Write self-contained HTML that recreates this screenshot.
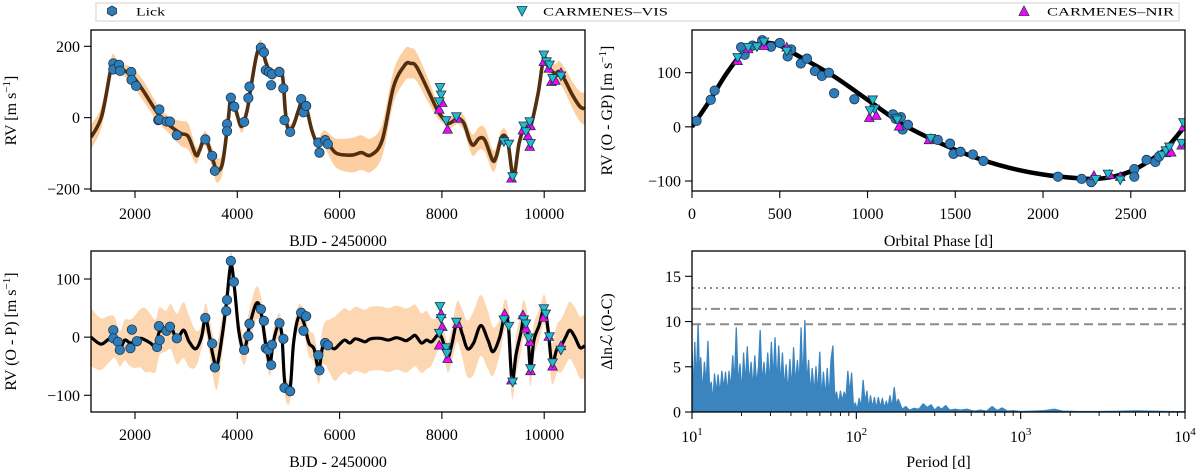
<!DOCTYPE html>
<html><head><meta charset="utf-8">
<style>
html,body{margin:0;padding:0;background:#fff;}
svg{display:block;font-family:"Liberation Serif",serif;}
</style></head>
<body>
<svg id="fig" width="1200" height="472" viewBox="0 0 1200 472" xmlns="http://www.w3.org/2000/svg">
  <g>
    <rect x="96" y="3" width="1083" height="18" fill="#fff" stroke="#d0d0d0" stroke-width="1"/>
    <g>
      <polygon points="112,6 116.5,8.5 116.5,13.5 112,16 107.5,13.5 107.5,8.5" fill="#2f7db8" stroke="#1a3550" stroke-width="0.8"/>
      <text x="136" y="15.5" font-size="12" textLength="29" lengthAdjust="spacingAndGlyphs">Lick</text>
    </g>
    <g>
      <polygon points="517,6.5 527,6.5 522,16" fill="#22bccb" stroke="#1a3550" stroke-width="0.8"/>
      <text x="543" y="15.5" font-size="12" textLength="125" lengthAdjust="spacingAndGlyphs">CARMENES–VIS</text>
    </g>
    <g>
      <polygon points="1024,6 1029,15.5 1019,15.5" fill="#ff00ff" stroke="#1a3550" stroke-width="0.8"/>
      <text x="1047" y="15.5" font-size="12" textLength="127" lengthAdjust="spacingAndGlyphs">CARMENES–NIR</text>
    </g>
  </g>
</svg>
<script>
// ---------- DATA: top-left (RV time series with GP+planet model) ----------
const lickT = [1576,1576,1688,1710,1926,1933,2022,2476,2454,2476,2617,2684,2818,3375,3509,3561,3799,3799,3874,3941,4134,4216,4238,4461,4520,4558,4617,4677,4662,4825,4900,4922,5033,5249,5294,5346,5584,5606,5718,5770];
const lickRV = [152,135,148,131,128,106,89,23,-7,-5,-11,-11,-49,-61,-107,-149,-18,-38,56,31,-12,55,87,196,183,133,128,122,91,128,82,-7,-40,52,15,33,-70,-98,-63,-74];
const visT = [7963,7985,7948,8082,8283,9212,9309,9383,9599,9643,9718,9732,9993,10045,10104,10164,10327];
const visRV = [85,64,45,-8,3,-67,-74,-165,-23,-39,-11,-72,176,157,148,110,117];
const nirT = [7948,8007,8111,8305,9227,9361,9584,9680,9732,9718,9993,10090,10142,10216,10327];
const nirRV = [23,42,-33,-2,-63,-170,-35,-51,-23,-81,157,138,101,104,126];
const modelT = [1140,1346,1517,1569,1703,1926,2149,2446,2669,2892,3041,3190,3264,3375,3524,3599,3710,3822,3874,3970,4082,4193,4268,4379,4468,4565,4677,4788,4885,4937,4989,5086,5197,5271,5346,5457,5569,5680,5777,5940,6238,6424,6610,6833,7056,7279,7390,7502,7725,7911,8023,8134,8245,8320,8431,8543,8617,8729,8840,8989,9063,9175,9286,9398,9509,9621,9732,9881,9993,10104,10216,10290,10401,10550,10699,10790];
const modelRV = [-55,3,129,157,138,120,78,12,-21,-44,-53,-105,-91,-58,-119,-147,-128,-7,54,21,-25,21,87,176,199,152,120,129,115,21,-30,-25,21,50,31,-35,-72,-58,-72,-100,-105,-98,-105,-63,87,148,152,143,78,21,-2,-16,-7,-2,-16,-63,-77,-58,-63,-119,-109,-53,-67,-165,-72,-25,-25,68,166,138,124,129,106,64,31,25];
const bandT = [1140,1500,1700,2200,2600,3000,3300,3600,3900,4300,4700,5200,5600,5900,6300,6800,7300,7700,8000,8300,8600,8900,9200,9500,9700,10000,10300,10790];
const bandSig = [35,25,15,30,20,40,15,35,15,20,15,15,15,40,50,45,45,35,15,15,30,35,20,15,15,15,30,45];

// ---------- DATA: top-right (phase-folded) ----------
const phLickP = [26,107,129,280,300,345,400,450,500,545,565,620,655,700,740,780,810,925,1145,1160,1190,1200,1230,1360,1400,1470,1490,1530,1600,1660,2085,2220,2275,2520,2520,2590,2640,2660];
const phLickV = [11,50,67,147,133,150,160,148,155,130,143,117,126,103,94,100,62,51,23,15,18,-5,4,-22,-24,-31,-50,-46,-51,-63,-92,-96,-102,-78,-92,-61,-65,-55];
const phVisP = [260,320,370,410,540,1030,1040,1015,1160,1170,1360,2300,2370,2440,2680,2700,2720,2790,2800];
const phVisV = [128,147,148,157,140,50,33,30,16,13,-21,-97,-87,-98,-52,-44,-37,-30,8];
const phNirP = [260,320,410,540,1010,1050,1180,1350,2290,2380,2440,2700,2730,2790,2800];
const phNirV = [122,144,150,147,17,21,1,-24,-90,-88,-92,-48,-47,-34,0];
const kepP = [0,100,200,300,400,500,600,800,1000,1200,1400,1600,1800,2000,2200,2300,2400,2500,2600,2700,2810];
const kepV = [0,48,100,140,155,150,132,95,50,5,-28,-55,-75,-88,-95,-96,-92,-82,-64,-40,2];

// ---------- DATA: bottom-left (O - P residuals) ----------
const resLickT = [1576,1576,1665,1703,1911,1940,2037,2431,2468,2483,2617,2684,2818,3375,3509,3561,3784,3799,3874,3933,4134,4216,4238,4461,4520,4558,4603,4677,4662,4825,4900,4922,5033,5249,5294,5346,5584,5606,5718,5770];
const resLickV = [12,-2,-8,-22,-19,13,-7,-17,19,-5,11,18,-2,33,-11,-52,45,64,131,95,-22,2,23,48,28,-19,-22,-13,-48,24,-3,-87,-93,42,11,36,-31,-57,-10,-14];
const resVisT = [7963,7985,7948,8082,8097,8283,9212,9309,9383,9599,9643,9696,9732,9993,10030,10104,10164,10327];
const resVisV = [53,32,7,-18,-28,26,30,19,-77,30,23,-1,-54,49,40,1,-44,-22];
const resNirT = [7948,7985,8007,8111,8305,9227,9361,9584,9643,9718,9732,9993,10090,10164,10327];
const resNirV = [-14,40,18,-37,23,40,-74,38,15,-8,-58,34,1,-50,-15];
const gpT = [1140,1330,1480,1600,1700,1800,1900,2000,2100,2200,2300,2400,2480,2600,2700,2820,2950,3060,3190,3300,3375,3450,3520,3600,3700,3790,3874,3950,4030,4134,4240,4370,4460,4560,4640,4700,4800,4870,4930,5030,5100,5200,5300,5400,5500,5590,5660,5720,5800,5900,6000,6100,6200,6300,6400,6500,6600,6800,6950,7100,7200,7300,7400,7480,7600,7700,7800,7950,8050,8120,8200,8300,8400,8500,8620,8760,8900,9000,9130,9230,9300,9370,9450,9550,9600,9680,9730,9800,9900,10000,10080,10150,10250,10330,10420,10500,10600,10700,10790];
const gpV = [0,-12,-4,0,-20,-5,-10,-8,-2,-5,-10,-15,10,10,18,-3,12,-8,-20,0,33,5,-30,-50,0,60,125,80,10,-22,20,58,45,-15,-45,-10,20,5,-80,-90,-10,35,25,-10,-20,-55,-20,-10,-15,-20,-12,-5,-10,-3,-5,-8,-3,-2,-5,-1,-3,-6,-1,3,-10,-5,-8,5,-15,-35,-10,27,5,-20,-10,20,-5,-25,0,38,20,-75,-30,10,32,5,-55,-5,20,48,10,-45,-20,-15,0,12,0,-18,-15];
const gpBandT = [1140,1500,1700,2200,2600,3000,3300,3600,3900,4300,4700,5200,5600,5900,6300,6800,7300,7700,8000,8300,8600,8900,9200,9500,9700,10000,10300,10790];
const gpBandSig = [50,40,30,55,35,50,20,40,20,30,20,20,25,55,55,55,55,50,20,35,55,50,25,35,30,25,45,55];

// ---------- DATA: bottom-right (periodogram) ----------
const perP = [10,10.2,10.4,10.6,10.9,11.1,11.3,11.6,11.9,12.2,12.5,12.8,13.1,13.4,13.7,14.1,14.4,14.8,15.2,15.6,16,16.4,16.8,17.2,17.7,18.1,18.6,19.1,19.6,20.1,20.6,21.1,21.7,22.3,22.9,23.5,24.1,24.7,25.4,26,26.7,27.4,28.1,28.9,29.6,30.4,31.2,32,32.9,33.7,34.6,35.5,36.5,37.4,38.4,39.4,40.5,41.5,42.6,43.8,44.9,46.1,47.3,48.6,49.9,51.2,52.5,53.9,55.4,56.8,58.3,59.9,61.5,63.1,64.8,66.5,68.3,70.1,72,73.9,75.8,77.9,80,82.1,84.3,86.5,88.8,91.2,93.6,96.1,98.6,101,104,107,110,113,116,119,122,125,129,132,136,140,144,148,152,156,160,165,170,175,180,190,200,210,225,240,255,270,285,300,315,330,350,370,400,430,470,520,570,620,670,720,770,830,900,1000,1200,1400,1600,1800,2200,3000,4000,5000,6000,8000,10000];
const perPow = [6.8,2,7.7,3,9.8,4,6,2,5.5,3,7.8,2.5,3.3,1,4.2,2,4.1,2,4.5,2.5,4.4,2,4.5,2.5,6.2,3,9.3,3,5.3,2,6.5,3,7.2,3,5.5,2.5,6.2,3,5,9.0,3,5.5,3,6.5,3,7.7,3.5,8.2,3,7.3,3,6.5,2.5,5.2,2,5.8,2.5,7.1,3,5.7,3,9.3,3,10.1,3,5.7,2,4.8,2,5,2,6.6,1.5,4.4,1.5,4.8,1.5,5.7,7.3,1.5,2.2,0.8,2.3,1.2,2.2,1.5,4.5,2,4.3,0.5,1.0,0.2,1.5,0.5,3.5,1.0,2.3,0.3,1.8,0.5,1.6,0.3,1.6,0.5,1.5,0.4,1.2,0.5,1.8,0.5,2.7,0.8,1.4,0.3,0.6,0.2,0.4,0.3,0.9,0.5,0.8,0.2,0.6,0.3,0.7,0.2,0.3,0.2,0.3,0.1,0.2,0.1,0.6,0.15,0.45,0.1,0.15,0.05,0.1,0.15,0.3,0.1,0.05,0.05,0.08,0.12,0.1,0.05,0.02];
const fapLevels = [13.7,11.4,9.7];
const fapDash = ["2,4","9,4,2,4","9,5"];

// ---------- tick label arrays ----------
const tlYTicks = [-200,0,200];
const timeTicks = [2000,4000,6000,8000,10000];
const trXTicks = [0,500,1000,1500,2000,2500];
const trYTicks = [-100,0,100];
const blYTicks = [-100,0,100];
const brYTicks = [0,5,10,15];
const brXExp = [1,2,3,4];

const NS = "http://www.w3.org/2000/svg";
const svg = document.getElementById('fig');
const FS = 16;
function mk(parent, tag, attrs){
  const e = document.createElementNS(NS, tag);
  for (const k in attrs) e.setAttribute(k, attrs[k]);
  parent.appendChild(e);
  return e;
}
function lin(d0,d1,r0,r1){ return v => r0 + (v-d0)*(r1-r0)/(d1-d0); }
function smooth(pts){
  if(!pts.length) return '';
  let d = 'M'+pts[0][0].toFixed(2)+','+pts[0][1].toFixed(2);
  for(let i=0;i<pts.length-1;i++){
    const p0=pts[Math.max(0,i-1)], p1=pts[i], p2=pts[i+1], p3=pts[Math.min(pts.length-1,i+2)];
    const c1x=p1[0]+(p2[0]-p0[0])/6, c1y=p1[1]+(p2[1]-p0[1])/6;
    const c2x=p2[0]-(p3[0]-p1[0])/6, c2y=p2[1]-(p3[1]-p1[1])/6;
    d += ' C'+c1x.toFixed(2)+','+c1y.toFixed(2)+' '+c2x.toFixed(2)+','+c2y.toFixed(2)+' '+p2[0].toFixed(2)+','+p2[1].toFixed(2);
  }
  return d;
}
function interp(xs, ys, x){
  if(x<=xs[0]) return ys[0];
  for(let i=1;i<xs.length;i++){ if(x<=xs[i]){ const f=(x-xs[i-1])/(xs[i]-xs[i-1]); return ys[i-1]+f*(ys[i]-ys[i-1]); } }
  return ys[ys.length-1];
}
const LICK='#2f7db8', VIS='#22bccb', NIR='#ff00ff', EDGE='#1a3550';

function panel(name, x0, x1, y0, y1){
  const g = mk(svg,'g',{});
  
  
  const cid = name+'-clip';
  const cp = mk(g,'clipPath',{id:cid});
  mk(cp,'rect',{x:x0,y:y0,width:x1-x0,height:y1-y0});
  const plot = mk(g,'g',{'clip-path':'url(#'+cid+')'});
  
  
  return {g, plot, x0, x1, y0, y1};
}
function frame(P){
  const r = mk(P.g,'rect',{x:P.x0,y:P.y0,width:P.x1-P.x0,height:P.y1-P.y0,fill:'none',stroke:'#000','stroke-width':1.3});
  
  
}
function yTicks(P, ticks, sy){
  ticks.forEach(v=>{
    const y = sy(v);
    const t = mk(P.g,'line',{x1:P.x0-7,x2:P.x0,y1:y,y2:y,stroke:'#000','stroke-width':1.1});
    
    
    const l = mk(P.g,'text',{x:P.x0-11,y:y+5.5,'font-size':FS,'text-anchor':'end'});
    l.textContent = v<0 ? '\u2212'+Math.abs(v) : String(v);
    
    
  });
}
function xTicks(P, ticks, sx){
  ticks.forEach(v=>{
    const x = sx(v);
    const t = mk(P.g,'line',{x1:x,x2:x,y1:P.y1,y2:P.y1+7,stroke:'#000','stroke-width':1.1});
    
    
    const l = mk(P.g,'text',{x:x,y:P.y1+28,'font-size':FS,'text-anchor':'middle'});
    l.textContent = String(v);
    
    
  });
}
function axisLabels(P, xl, yl, ylx){
  const xt = mk(P.g,'text',{x:(P.x0+P.x1)/2,y:P.y1+55,'font-size':FS,'text-anchor':'middle'});
  xt.textContent = xl;
  
  
  const cy = (P.y0+P.y1)/2;
  const yt = mk(P.g,'text',{x:ylx,y:cy,'font-size':FS,'text-anchor':'middle',transform:'rotate(-90 '+ylx+' '+cy+')'});
  yt.innerHTML = yl;
  
  
}
function circ(parent, x, y, name){
  const c = mk(parent,'circle',{cx:x,cy:y,r:4.7,fill:LICK,stroke:EDGE,'stroke-width':0.8});
  
  
}
function triDown(parent, x, y, name){
  const s=4.8;
  const p = mk(parent,'polygon',{points:(x-s)+','+(y-s*0.8)+' '+(x+s)+','+(y-s*0.8)+' '+x+','+(y+s),fill:VIS,stroke:EDGE,'stroke-width':0.8});
  
  
}
function triUp(parent, x, y, name){
  const s=4.8;
  const p = mk(parent,'polygon',{points:(x-s)+','+(y+s*0.8)+' '+(x+s)+','+(y+s*0.8)+' '+x+','+(y-s),fill:NIR,stroke:EDGE,'stroke-width':0.8});
  
  
}
function band(P, ts, vs, bts, bsig, sx, sy, color, name){
  const up = ts.map((t,i)=>[sx(t), sy(vs[i]+interp(bts,bsig,t))]);
  const lo = ts.map((t,i)=>[sx(t), sy(vs[i]-interp(bts,bsig,t))]).reverse();
  const d = smooth(up) + ' L' + lo[0][0]+','+lo[0][1] + smooth(lo).replace(/^M/,' L') + ' Z';
  const b = mk(P.plot,'path',{d:d,fill:color,stroke:'none'});
  
  
}
const unit = '<tspan>[m s</tspan><tspan dy="-6" font-size="11">\u22121</tspan><tspan dy="6">]</tspan>';

// ===== Panel 1: top-left =====
{
  const P = panel('rv-timeseries-panel', 91, 585, 30, 191);
  const sx = lin(2000,10000,135,544.2), sy = lin(-200,200,189,46.3);
  band(P, modelT, modelRV, bandT, bandSig, sx, sy, '#fdcfa0', 'gp-uncertainty-band');
  const m = mk(P.plot,'path',{d:smooth(modelT.map((t,i)=>[sx(t),sy(modelRV[i])])),fill:'none',stroke:'#52300f','stroke-width':3.6,'stroke-linejoin':'round'});
  
  
  lickT.forEach((t,i)=>circ(P.plot, sx(t), sy(lickRV[i]), 'lick-point'));
  nirT.forEach((t,i)=>triUp(P.plot, sx(t), sy(nirRV[i]), 'nir-point'));
  visT.forEach((t,i)=>triDown(P.plot, sx(t), sy(visRV[i]), 'vis-point'));
  frame(P); yTicks(P, tlYTicks, sy); xTicks(P, timeTicks, sx);
  axisLabels(P, 'BJD - 2450000', 'RV ' + unit, 16);
}
// ===== Panel 2: top-right =====
{
  const P = panel('phase-folded-panel', 692, 1185, 30, 191);
  const sx = lin(0,2500,692,1130.8), sy = lin(-100,100,181,72.7);
  const k = mk(P.plot,'path',{d:smooth(kepP.map((p,i)=>[sx(p),sy(kepV[i])])),fill:'none',stroke:'#000','stroke-width':4.5});
  
  
  phLickP.forEach((p,i)=>circ(P.plot, sx(p), sy(phLickV[i]), 'lick-phase-point'));
  phNirP.forEach((p,i)=>triUp(P.plot, sx(p), sy(phNirV[i]), 'nir-phase-point'));
  phVisP.forEach((p,i)=>triDown(P.plot, sx(p), sy(phVisV[i]), 'vis-phase-point'));
  frame(P); yTicks(P, trYTicks, sy); xTicks(P, trXTicks, sx);
  axisLabels(P, 'Orbital Phase [d]', 'RV (O - GP) ' + unit, 612);
}
// ===== Panel 3: bottom-left =====
{
  const P = panel('residuals-panel', 91, 585, 251, 412);
  const sx = lin(2000,10000,135,544.2), sy = lin(-100,100,395.3,279);
  band(P, gpT, gpV, gpBandT, gpBandSig, sx, sy, '#fdd6b2', 'gp-residual-band');
  const m = mk(P.plot,'path',{d:smooth(gpT.map((t,i)=>[sx(t),sy(gpV[i])])),fill:'none',stroke:'#000','stroke-width':3.2,'stroke-linejoin':'round'});
  
  
  resLickT.forEach((t,i)=>circ(P.plot, sx(t), sy(resLickV[i]), 'lick-residual-point'));
  resNirT.forEach((t,i)=>triUp(P.plot, sx(t), sy(resNirV[i]), 'nir-residual-point'));
  resVisT.forEach((t,i)=>triDown(P.plot, sx(t), sy(resVisV[i]), 'vis-residual-point'));
  frame(P); yTicks(P, blYTicks, sy); xTicks(P, timeTicks, sx);
  axisLabels(P, 'BJD - 2450000', 'RV (O - P) ' + unit, 16);
}
// ===== Panel 4: bottom-right periodogram =====
{
  const P = panel('periodogram-panel', 692, 1185, 251, 412);
  const lx = lin(1,4,692,1185);
  const sx = p => lx(Math.log10(p));
  const sy = lin(0,15,412,276.3);
  const pts = perP.map((p,i)=>[sx(p), sy(perPow[i])]);
  const area = 'M'+sx(perP[0])+','+sy(0)+' '+pts.map(q=>'L'+q[0].toFixed(2)+','+q[1].toFixed(2)).join(' ')+' L'+sx(perP[perP.length-1])+','+sy(0)+' Z';
  const a = mk(P.plot,'path',{d:area,fill:'#3a84bf',stroke:'#3a84bf','stroke-width':1.3,'stroke-linejoin':'round'});
  
  
  fapLevels.forEach((v,i)=>{
    const l = mk(P.plot,'line',{x1:P.x0,x2:P.x1,y1:sy(v),y2:sy(v),stroke:'#8c8c8c','stroke-width':2,'stroke-dasharray':fapDash[i]});
    
    
  });
  frame(P);
  yTicks(P, brYTicks, sy);
  brXExp.forEach(e=>{
    const x = lx(e);
    const t = mk(P.g,'line',{x1:x,x2:x,y1:P.y1,y2:P.y1+7,stroke:'#000','stroke-width':1.1});
    
    
    if(e<4){ for(let m=2;m<10;m++){
      const xm = lx(e+Math.log10(m));
      const mt = mk(P.g,'line',{x1:xm,x2:xm,y1:P.y1,y2:P.y1+4,stroke:'#000','stroke-width':0.9});
      
      
    }}
    const lb = mk(P.g,'text',{x:x,y:P.y1+30,'font-size':FS,'text-anchor':'middle'});
    lb.innerHTML = '10<tspan dy="-7" font-size="11">'+e+'</tspan>';
    
    
  });
  axisLabels(P, 'Period [d]', '\u0394ln<tspan font-style="italic">\u2112</tspan> (O-C)', 612);
}
</script>
</body></html>
